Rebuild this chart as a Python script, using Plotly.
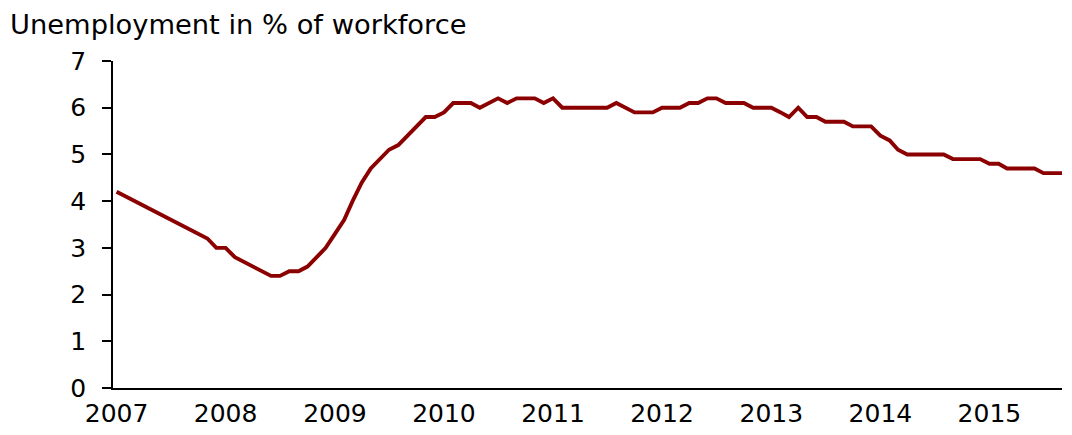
import pandas as pd
import plotly.graph_objects as go

# Monthly unemployment rate, Jan 2007 - Sep 2015
months = pd.date_range("2007-01-01", periods=105, freq="MS")
unemployment = [
    4.2, 4.1, 4.0, 3.9, 3.8, 3.7, 3.6, 3.5, 3.4, 3.3, 3.2, 3.0,   # 2007
    3.0, 2.8, 2.7, 2.6, 2.5, 2.4, 2.4, 2.5, 2.5, 2.6, 2.8, 3.0,   # 2008
    3.3, 3.6, 4.0, 4.4, 4.7, 4.9, 5.1, 5.2, 5.4, 5.6, 5.8, 5.8,   # 2009
    5.9, 6.1, 6.1, 6.1, 6.0, 6.1, 6.2, 6.1, 6.2, 6.2, 6.2, 6.1,   # 2010
    6.2, 6.0, 6.0, 6.0, 6.0, 6.0, 6.0, 6.1, 6.0, 5.9, 5.9, 5.9,   # 2011
    6.0, 6.0, 6.0, 6.1, 6.1, 6.2, 6.2, 6.1, 6.1, 6.1, 6.0, 6.0,   # 2012
    6.0, 5.9, 5.8, 6.0, 5.8, 5.8, 5.7, 5.7, 5.7, 5.6, 5.6, 5.6,   # 2013
    5.4, 5.3, 5.1, 5.0, 5.0, 5.0, 5.0, 5.0, 4.9, 4.9, 4.9, 4.9,   # 2014
    4.8, 4.8, 4.7, 4.7, 4.7, 4.7, 4.6, 4.6, 4.6,                  # 2015
]
year_ticks = ["2007", "2008", "2009", "2010", "2011", "2012", "2013", "2014", "2015"]
y_ticks = [0, 1, 2, 3, 4, 5, 6, 7]
title_text = "Unemployment in % of workforce"

FONT = "DejaVu Sans"
L, R, T, B = 105, 10, 53, 47
W, H = 1064, 427
PW, PH = W - L - R, H - T - B

fig = go.Figure()
fig.add_trace(go.Scatter(
    x=months, y=unemployment, mode="lines",
    line=dict(color="#8B0000", width=3.9),
    hoverinfo="x+y",
))

fig.update_layout(
    width=W, height=H,
    margin=dict(l=L, r=R, t=T, b=B, autoexpand=False),
    paper_bgcolor="white", plot_bgcolor="white",
    showlegend=False,
    font=dict(family=FONT, size=25, color="black"),
    annotations=[dict(
        text=title_text, xref="paper", yref="paper",
        x=-(L - 1) / PW, y=1 + T / PH, xanchor="left", yanchor="top",
        borderpad=0,
        showarrow=False, font=dict(family=FONT, size=27.3, color="black"),
    )],
)

fig.update_xaxes(
    type="date",
    range=["2006-12-20", "2015-09-01"],
    tickvals=[f"{y}-01-01" for y in year_ticks],
    ticktext=year_ticks,
    ticks="", showgrid=False, zeroline=False, automargin=False,
    showline=True, linecolor="black", linewidth=1.5,
    ticklabelstandoff=2,
    tickfont=dict(family=FONT, size=25, color="black"),
)
fig.update_yaxes(
    range=[0, 7],
    tickvals=y_ticks, automargin=False,
    ticks="outside", ticklen=9, tickwidth=1.5, tickcolor="black",
    showgrid=False, zeroline=False,
    showline=True, linecolor="black", linewidth=1.5,
    ticklabelstandoff=11,
    tickfont=dict(family=FONT, size=25, color="black"),
)

fig.write_html("out.html")
